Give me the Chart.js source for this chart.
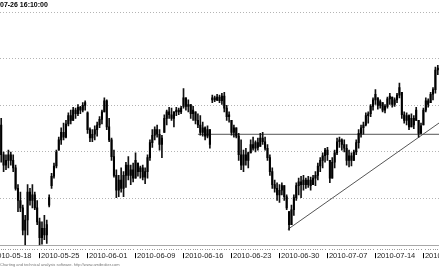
<!DOCTYPE html>
<html><head><meta charset="utf-8">
<script src="https://cdn.jsdelivr.net/npm/chart.js@4/dist/chart.umd.min.js"></script>
<style>html,body{margin:0;padding:0;background:#fff;overflow:hidden}#wrap{position:relative;width:439px;height:268px}</style>
</head><body><div id="wrap"><canvas id="c"></canvas></div>
<script>
const titleText = '07-26 16:10:00';
const footerText = 'Charting and technical analysis software. http://www.amibroker.com';
const tickLabels = ['2010-05-18','2010-05-25','2010-06-01','2010-06-09','2010-06-16','2010-06-23','2010-06-30','2010-07-07','2010-07-14','2010-07-21'];
const firstTickBar = -4, barsPerTick = 20;
const yGridValues = [7.5, 8.0, 8.5, 9.0, 9.5, 10.0];

const highs = [
8.86,8.50,8.47,8.52,8.50,8.47,8.36,8.15,8.07,7.93,
7.82,8.15,8.11,8.15,8.07,7.98,7.79,7.75,7.82,7.77,
8.04,8.27,8.38,8.52,8.66,8.76,8.81,8.84,8.92,8.95,
8.98,8.97,9.01,8.99,9.03,9.05,8.93,8.76,8.74,8.78,
8.82,8.88,8.95,9.08,9.06,8.86,8.65,8.52,8.31,8.25,
8.33,8.29,8.39,8.45,8.36,8.38,8.49,8.38,8.35,8.36,
8.33,8.47,8.63,8.74,8.77,8.79,8.74,8.68,8.90,8.95,
8.98,8.97,8.93,8.98,8.97,8.99,9.18,9.08,9.06,9.01,
8.99,8.93,8.91,8.89,8.82,8.77,8.78,8.74,9.11,9.10,
9.12,9.11,9.13,9.14,9.00,8.93,8.84,8.79,8.76,8.70,
8.63,8.52,8.54,8.50,8.63,8.66,8.62,8.65,8.70,8.71,
8.66,8.58,8.47,8.33,8.20,8.17,8.15,8.17,8.14,8.04,
7.86,7.93,8.04,8.17,8.22,8.24,8.25,8.22,8.24,8.23,
8.25,8.29,8.38,8.44,8.49,8.54,8.55,8.41,8.44,8.52,
8.65,8.66,8.64,8.63,8.58,8.52,8.49,8.52,8.63,8.74,
8.79,8.82,8.92,8.93,9.01,9.08,9.17,9.08,9.06,9.03,
9.01,9.09,9.13,9.09,9.08,9.13,9.24,9.14,8.93,8.92,
8.90,8.91,8.89,8.98,8.84,8.81,8.97,9.08,9.07,9.14,
9.19,9.41,9.43];
const lows = [
8.39,8.29,8.31,8.33,8.36,8.29,8.09,7.86,7.86,7.61,
7.50,7.61,7.93,7.90,7.88,7.72,7.50,7.51,7.56,7.52,
7.91,8.11,8.22,8.33,8.52,8.58,8.63,8.65,8.78,8.80,
8.84,8.86,8.89,8.91,8.93,8.95,8.70,8.61,8.61,8.63,
8.67,8.76,8.80,8.93,8.74,8.61,8.41,8.23,8.01,8.02,
8.07,8.02,8.12,8.20,8.15,8.18,8.22,8.24,8.22,8.20,
8.16,8.22,8.41,8.55,8.63,8.66,8.52,8.44,8.71,8.79,
8.86,8.84,8.77,8.89,8.90,8.91,8.97,8.95,8.93,8.86,
8.84,8.80,8.76,8.68,8.67,8.63,8.65,8.54,9.03,9.04,
9.05,9.03,9.01,8.93,8.84,8.82,8.68,8.66,8.65,8.41,
8.31,8.29,8.36,8.33,8.49,8.52,8.50,8.52,8.56,8.58,
8.52,8.41,8.25,8.11,8.07,7.98,7.96,8.04,7.98,7.88,
7.66,7.72,7.82,7.98,8.04,8.01,8.09,8.11,8.12,8.09,
8.15,8.14,8.20,8.29,8.33,8.39,8.41,8.17,8.22,8.33,
8.47,8.55,8.52,8.50,8.36,8.34,8.35,8.41,8.47,8.54,
8.66,8.69,8.78,8.81,8.88,8.95,9.01,8.96,8.97,8.93,
8.92,8.97,9.01,8.98,8.99,9.03,9.08,8.86,8.81,8.79,
8.74,8.77,8.75,8.84,8.66,8.70,8.79,8.93,8.98,9.03,
9.06,9.13,9.33];
const opens = [
8.79,8.47,8.36,8.41,8.47,8.41,8.33,8.11,7.98,7.90,
7.66,7.77,8.07,7.98,8.04,7.90,7.75,7.58,7.68,7.61,
7.93,8.14,8.24,8.35,8.52,8.63,8.71,8.66,8.80,8.89,
8.84,8.95,8.91,8.98,8.95,9.00,8.92,8.74,8.65,8.69,
8.74,8.79,8.85,8.93,9.05,8.77,8.63,8.45,8.25,8.09,
8.20,8.11,8.25,8.36,8.25,8.31,8.22,8.38,8.29,8.33,
8.23,8.29,8.44,8.60,8.68,8.74,8.69,8.58,8.71,8.86,
8.93,8.90,8.86,8.93,8.95,8.93,8.99,9.08,8.99,9.01,
8.91,8.93,8.84,8.79,8.71,8.76,8.67,8.74,9.06,9.08,
9.06,9.09,9.05,9.10,8.97,8.88,8.84,8.71,8.76,8.67,
8.47,8.36,8.47,8.41,8.49,8.58,8.54,8.60,8.56,8.65,
8.61,8.54,8.44,8.29,8.15,8.11,8.04,8.09,8.14,8.02,
7.86,7.72,7.88,8.01,8.14,8.18,8.15,8.20,8.15,8.20,
8.15,8.22,8.25,8.35,8.41,8.46,8.52,8.41,8.22,8.39,
8.49,8.61,8.63,8.58,8.54,8.41,8.46,8.41,8.50,8.60,
8.70,8.76,8.79,8.89,8.91,8.99,9.06,9.08,9.00,9.03,
8.95,8.99,9.07,9.09,9.01,9.06,9.11,9.14,8.90,8.84,
8.89,8.77,8.86,8.84,8.84,8.70,8.79,8.95,9.05,9.03,
9.12,9.17,9.38];
const closes = [
8.47,8.36,8.41,8.47,8.41,8.33,8.11,7.98,7.90,7.66,
7.77,8.07,7.98,8.04,7.90,7.75,7.58,7.68,7.61,7.72,
8.01,8.24,8.35,8.50,8.63,8.71,8.66,8.80,8.89,8.84,
8.95,8.91,8.98,8.95,9.00,9.03,8.74,8.65,8.69,8.74,
8.79,8.85,8.93,9.05,8.77,8.63,8.45,8.25,8.09,8.20,
8.11,8.25,8.36,8.25,8.31,8.22,8.41,8.29,8.33,8.23,
8.29,8.44,8.60,8.68,8.74,8.69,8.58,8.65,8.86,8.93,
8.90,8.86,8.93,8.95,8.93,8.97,9.08,8.99,9.01,8.91,
8.95,8.84,8.79,8.71,8.76,8.67,8.74,8.58,9.08,9.06,
9.09,9.05,9.10,8.97,8.88,8.90,8.71,8.76,8.67,8.47,
8.36,8.47,8.41,8.49,8.58,8.54,8.60,8.55,8.65,8.61,
8.54,8.44,8.29,8.15,8.11,8.04,8.09,8.14,8.02,7.90,
7.72,7.88,8.01,8.14,8.18,8.15,8.20,8.15,8.20,8.14,
8.22,8.25,8.35,8.41,8.46,8.52,8.47,8.22,8.39,8.49,
8.61,8.63,8.58,8.54,8.41,8.46,8.41,8.50,8.60,8.70,
8.76,8.79,8.89,8.91,8.99,9.06,9.12,9.00,9.04,8.95,
8.99,9.07,9.10,9.01,9.06,9.11,9.19,8.90,8.84,8.89,
8.77,8.86,8.79,8.95,8.70,8.78,8.95,9.05,9.01,9.12,
9.17,9.38,9.40];

const resistanceX = [82, 183];
const resistanceY = [8.69, 8.69];
const trendX = [119.5, 183];
const trendY = [7.67, 8.82];

const FONT = "'Liberation Sans', Arial, sans-serif";
const isMajor = v => (v - firstTickBar) % barsPerTick === 0;
const wickData = highs.map((h, i) => ({x: i, y: [lows[i], h]}));
const bodyData = opens.map((o, i) => ({x: i, y: [Math.min(o, closes[i]), Math.max(o, closes[i])]}));

new Chart(document.getElementById('c'), {
  type: 'bar',
  data: {
    datasets: [
      {data: bodyData, backgroundColor: '#000', borderWidth: 0, barThickness: 1.4, grouped: false},
      {data: wickData, backgroundColor: '#111', borderWidth: 0, barThickness: 1, grouped: false},
      {type: 'line', data: resistanceX.map((x, i) => ({x, y: resistanceY[i]})), borderColor: '#555', borderWidth: 1, pointRadius: 0, fill: false},
      {type: 'line', data: trendX.map((x, i) => ({x, y: trendY[i]})), borderColor: '#555', borderWidth: 1, pointRadius: 0, fill: false}
    ]
  },
  options: {
    responsive: true, maintainAspectRatio: false, animation: false,
    layout: {padding: 0},
    plugins: {
      legend: {display: false}, tooltip: {enabled: false},
      title: {display: true, text: titleText, align: 'start', color: '#000',
        font: {family: FONT, size: 7, weight: 'bold', lineHeight: 1.2}, padding: {top: 1, bottom: 0}},
      subtitle: {display: true, text: footerText, position: 'bottom', align: 'start', color: '#777',
        font: {family: FONT, size: 4, lineHeight: 1.2}, padding: {top: 1, bottom: 1}}
    },
    scales: {
      x: {
        type: 'linear', min: -0.5, max: 182.5, offset: false,
        afterBuildTicks: s => {
          const t = [];
          for (let v = firstTickBar; v < highs.length; v++) t.push({value: v});
          s.ticks = t;
        },
        afterFit: s => { s.paddingLeft = 0; s.paddingRight = 0; s.height = 16; },
        grid: {
          display: true, drawOnChartArea: false, offset: false, tickLength: 13, tickWidth: 1,
          tickColor: ctx => isMajor(ctx.tick.value) ? '#000' : '#9a9a9a',
          tickBorderDash: ctx => isMajor(ctx.tick.value) ? [0, 7, 6, 30] : [0, 3, 1, 30]
        },
        border: {display: true, color: '#a8a8a8', width: 1},
        ticks: {
          autoSkip: false, maxRotation: 0, minRotation: 0, align: 'start', labelOffset: 1.5, padding: -6,
          color: '#222', font: {family: FONT, size: 7.5, lineHeight: 1.1},
          callback: v => isMajor(v) ? tickLabels[(v - firstTickBar) / barsPerTick] : ''
        }
      },
      y: {
        type: 'linear', position: 'right', min: 7.5, max: 10.03,
        afterBuildTicks: s => { s.ticks = yGridValues.map(v => ({value: v})); },
        grid: {color: '#b4b4b4', drawTicks: false, lineWidth: 1},
        border: {display: false, dash: [1, 2]},
        ticks: {display: false}
      }
    }
  }
});
</script></body></html>
